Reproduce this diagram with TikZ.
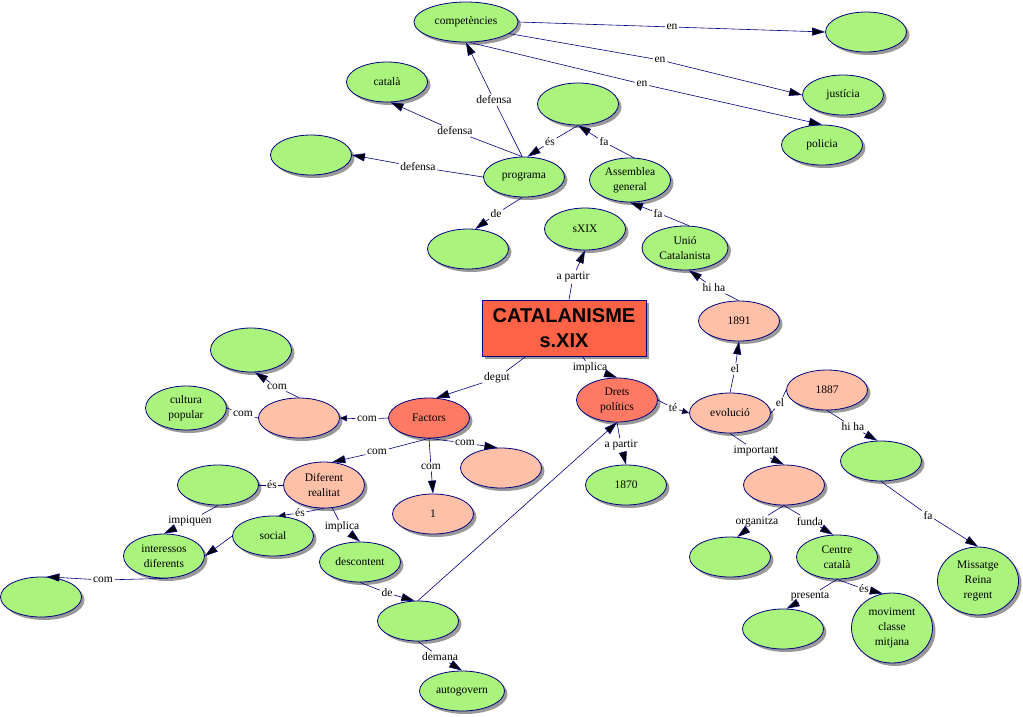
\documentclass[tikz,border=0pt]{standalone}
\usepackage{fontspec}
\setmainfont{Liberation Serif}
\newfontfamily\titlefont{Liberation Sans}
\usepackage{xcolor}
\definecolor{cmgreen}{RGB}{170,243,125}
\definecolor{cmpink}{RGB}{255,192,168}
\definecolor{cmsalmon}{RGB}{255,122,100}
\definecolor{cmred}{RGB}{255,99,71}
\definecolor{cmnavy}{RGB}{0,0,128}
\usepackage{tikz}
\usetikzlibrary{positioning}
\usetikzlibrary{arrows.meta, shapes.geometric, shadows}

\tikzset{
    cgreen/.style={ellipse, draw=cmnavy, line width=0.8pt, fill=cmgreen, minimum width=81pt, minimum height=40pt, inner sep=0pt, align=center, font=\fontsize{11.5}{15}\selectfont, drop shadow={shadow xshift=3pt, shadow yshift=-3pt, fill=black!40, opacity=1}},
    cpink/.style={cgreen, fill=cmpink},
    csalmon/.style={cgreen, fill=cmsalmon},
    titlebox/.style={rectangle, draw=cmnavy, line width=0.8pt, fill=cmred, minimum width=164pt, minimum height=56pt, align=center, font=\titlefont\bfseries\fontsize{20}{25}\selectfont, drop shadow={shadow xshift=3pt, shadow yshift=-3pt, fill=black!40, opacity=1}},
    lbl/.style={inner sep=1.5pt, font=\fontsize{11.5}{13}\selectfont},
    lnk/.style={draw=cmnavy, line width=0.6pt},
    pointed/.style={-{Triangle[length=13pt,width=8pt]}},
    pointedsmall/.style={-{Triangle[length=7pt,width=6pt]}},
}

\begin{document}
\begin{tikzpicture}[x=1pt, y=-1pt]
    \useasboundingbox (0,0) rectangle (1023,716);

    \node [titlebox] (catalanisme) at (564,328) {CATALANISME\\s.XIX};

    \node [cgreen, minimum width=104pt] (competencies) at (466,22) {competències};
    \node [cgreen] (buit1) at (866,32) {};
    \node [cgreen] (justicia) at (843,95) {justícia};
    \node [cgreen] (policia) at (822,145) {policia};
    \node [cgreen] (catala) at (387,82) {català};
    \node [cgreen] (buit2) at (311,155) {};
    \node [cgreen] (programa) at (524,177) {programa};
    \node [cgreen] (buit3) at (468,249) {};
    \node [cgreen, minimum height=42pt] (buit4) at (578,104) {};
    \node [cgreen, minimum height=44pt] (assemblea) at (630,180) {Assemblea\\general};
    \node [cgreen, minimum height=42pt] (sxix) at (585,229) {sXIX};
    \node [cgreen, minimum width=86pt, minimum height=44pt] (unio) at (685,248) {Unió\\Catalanista};
    \node [cpink] (n1891) at (739,321) {1891};

    \node [csalmon] (factors) at (429,418) {Factors};
    \node [cpink] (buit5) at (299,418) {};
    \node [cgreen, minimum height=44pt] (buit6) at (251,350) {};
    \node [cgreen, minimum height=44pt] (cultura) at (186,408) {cultura\\popular};
    \node [cpink, minimum height=46pt] (diferent) at (324,485) {Diferent\\realitat};
    \node [cpink] (buit7) at (501,468) {};
    \node [cpink] (u) at (433,514) {1};
    \node [cgreen] (social) at (273,536) {social};
    \node [cgreen] (buit12) at (218,485) {};
    \node [cgreen, minimum height=44pt] (interessos) at (164,556) {interessos\\diferents};
    \node [cgreen] (buit13) at (41,597) {};
    \node [cgreen] (descontent) at (360,562) {descontent};
    \node [cgreen] (buit14) at (418,621) {};
    \node [cgreen, minimum width=85pt] (autogovern) at (462,691) {autogovern};

    \node [csalmon, minimum height=44pt] (drets) at (617,400) {Drets\\polítics};
    \node [cgreen] (n1870) at (626,485) {1870};
    \node [cpink] (evolucio) at (730,413) {evolució};
    \node [cpink] (n1887) at (827,390) {1887};
    \node [cpink] (buit8) at (784,485) {};
    \node [cgreen] (buit9) at (881,461) {};
    \node [cgreen, minimum height=68pt] (missatge) at (978,581) {Missatge\\Reina\\regent};
    \node [cgreen] (buit10) at (730,557) {};
    \node [cgreen, minimum height=44pt] (centre) at (837,557) {Centre\\català};
    \node [cgreen] (buit11) at (783,629) {};
    \node [cgreen, minimum height=70pt] (moviment) at (892,628) {moviment\\classe\\mitjana};

    \node [lbl] (en1) at (672,27) {en};
    \node [lbl] (en2) at (660,60) {en};
    \node [lbl] (en3) at (642,84) {en};
    \node [lbl] (def1) at (494,100) {defensa};
    \node [lbl] (def2) at (455,131) {defensa};
    \node [lbl] (def3) at (418,167) {defensa};
    \node [lbl] (es1) at (550,142) {és};
    \node [lbl] (fa1) at (604,142) {fa};
    \node [lbl] (de1) at (496,214) {de};
    \node [lbl] (apartir1) at (573,277) {a partir};
    \node [lbl] (fa2) at (658,213) {fa};
    \node [lbl] (hiha1) at (714,288) {hi ha};
    \node [lbl] (el1) at (735,369) {el};
    \node [lbl] (degut) at (497,378) {degut};
    \node [lbl] (implica1) at (590,368) {implica};
    \node [lbl] (te) at (673,408) {té};
    \node [lbl] (apartir2) at (621,445) {a partir};
    \node [lbl] (el2) at (780,403) {el};
    \node [lbl] (important) at (756,451) {important};
    \node [lbl] (organitza) at (757,522) {organitza};
    \node [lbl] (funda) at (810,521) {funda};
    \node [lbl] (hiha2) at (853,427) {hi ha};
    \node [lbl] (fa3) at (928,515) {fa};
    \node [lbl] (presenta) at (810,596) {presenta};
    \node [lbl] (es2) at (864,589) {és};
    \node [lbl] (com1) at (367,419) {com};
    \node [lbl] (com2) at (277,387) {com};
    \node [lbl] (com3) at (243,414) {com};
    \node [lbl] (com4) at (377,452) {com};
    \node [lbl] (com5) at (431,467) {com};
    \node [lbl] (com6) at (465,443) {com};
    \node [lbl] (es3) at (272,485) {és};
    \node [lbl] (es4) at (300,513) {és};
    \node [lbl] (implica2) at (342,527) {implica};
    \node [lbl] (impiquen) at (190,521) {impiquen};
    \node [lbl] (com7) at (103,580) {com};
    \node [lbl] (de2) at (387,593) {de};
    \node [lbl] (demana) at (440,657) {demana};

    \path [lnk] (competencies.east) edge (en1) (en1) edge [pointed] (buit1.west)
    (competencies.-15) edge (en2) (en2) edge [pointed] (justicia.west)
    (competencies.-80) edge (en3) (en3) edge [pointed] (policia.north)
    (programa.95) edge (def1) (def1) edge [pointed] (competencies.south)
    (programa.95) edge (def2) (def2) edge [pointed] (catala.-80)
    (programa.west) edge (def3) (def3) edge [pointed] (buit2.east)
    (buit4.south) edge (es1) (es1) edge [pointed] (programa.80)
    (assemblea.80) edge (fa1) (fa1) edge [pointed] (buit4.south)
    (programa.-95) edge (de1) (de1) edge [pointed] (buit3.70)
    (catalanisme) edge (apartir1) (apartir1) edge [pointed] (sxix.south)
    (unio.80) edge (fa2) (fa2) edge [pointed] (assemblea.south)
    (n1891.north) edge (hiha1) (hiha1) edge [pointed] (unio.-80)
    (evolucio.north) edge (el1) (el1) edge [pointed] (n1891.south);

    \path [lnk] (catalanisme) edge (degut) (degut) edge [pointed] (factors.70)
    (catalanisme) edge (implica1) (implica1) edge [pointed] (drets.north)
    (drets.east) edge (te) (te) edge [pointedsmall] (evolucio.west)
    (drets.south) edge (apartir2) (apartir2) edge [pointed] (n1870.north)
    (evolucio.east) edge (el2) (el2) edge (n1887.west)
    (evolucio.south) edge (important) (important) edge [pointed] (buit8.north)
    (buit8.south) edge (organitza) (organitza) edge [pointed] (buit10.70)
    (buit8.south) edge (funda) (funda) edge [pointed] (centre.100)
    (n1887.south) edge (hiha2) (hiha2) edge [pointed] (buit9.100)
    (buit9.south) edge (fa3) (fa3) edge [pointed] (missatge.north)
    (centre.south) edge (presenta) (presenta) edge [pointed] (buit11.80)
    (centre.south) edge (es2) (es2) edge [pointed] (moviment.105);

    \path [lnk] (factors.west) edge (com1) (com1) edge [pointedsmall] (buit5.east)
    (buit5.north) edge (com2) (com2) edge [pointed] (buit6.-80)
    (buit5.west) edge (com3) (com3) edge (cultura.east)
    (factors.south) edge (com4) (com4) edge [pointed] (diferent.70)
    (factors.south) edge (com5) (com5) edge [pointed] (u.north)
    (factors.south) edge (com6) (com6) edge [pointed] (buit7.100)
    (diferent.west) edge (es3) (es3) edge (buit12.east)
    (diferent.-90) edge (es4) (es4) edge [pointedsmall] (social.75)
    (diferent.-70) edge (implica2) (implica2) edge [pointed] (descontent.north)
    (buit12.south) edge (impiquen) (impiquen) edge [pointed] (interessos.north)
    (social.west) edge [pointed] (interessos.east)
    (interessos.-80) edge (com7) (com7) edge [pointed] (buit13.75)
    (descontent.south) edge (de2) (de2) edge [pointed] (buit14.100)
    (buit14.south) edge (demana) (demana) edge [pointed] (autogovern.north)
    (buit14.north) edge [pointed] (drets.south);
\end{tikzpicture}
\end{document}
